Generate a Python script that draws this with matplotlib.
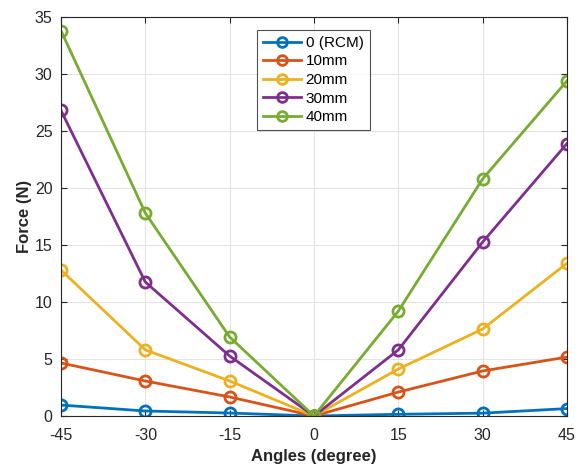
import matplotlib
matplotlib.use("Agg")
import matplotlib.pyplot as plt

angles = [-45, -30, -15, 0, 15, 30, 45]
labels = ["0 (RCM)", "10mm", "20mm", "30mm", "40mm"]
f_rcm = [0.96, 0.44, 0.26, 0.0, 0.15, 0.25, 0.65]
f_10 = [4.65, 3.07, 1.67, 0.0, 2.1, 3.95, 5.17]
f_20 = [12.8, 5.8, 3.07, 0.0, 4.12, 7.63, 13.4]
f_30 = [26.8, 11.75, 5.26, 0.0, 5.8, 15.26, 23.9]
f_40 = [33.8, 17.8, 6.93, 0.0, 9.2, 20.8, 29.4]
series = [f_rcm, f_10, f_20, f_30, f_40]
colors = ["#0072BD", "#D95319", "#EDB120", "#7E2F8E", "#77AC30"]

plt.rcParams['font.family'] = ['Liberation Sans', 'DejaVu Sans']
fig = plt.figure(figsize=(5.78, 4.66), dpi=100)
ax = fig.add_axes([61/578, 50/466, 506/578, 399/466])

for ys, lab, c in zip(series, labels, colors):
    ax.plot(angles, ys, color=c, lw=2.0, marker='o', ms=8, mfc='none',
            mew=2.0, label=lab)

ax.set_xlim(-45, 45)
ax.set_ylim(0, 35)
ax.set_xticks(angles)
ax.set_xticklabels([str(a) for a in angles])
ax.set_yticks(range(0, 36, 5))
ax.grid(True, color='#e3e3e3', lw=0.8)
ax.set_axisbelow(True)
for s in ax.spines.values():
    s.set_color('#262626')
    s.set_linewidth(0.8)
ax.tick_params(direction='in', length=4, labelsize=11.5, colors='#262626',
               top=True, right=True)
ax.tick_params(axis='x', pad=9)
ax.tick_params(axis='y', pad=6)
ax.set_xlabel('Angles (degree)', fontsize=12, fontweight='bold', color='#262626', labelpad=4)
ax.set_ylabel('Force (N)', fontsize=12, fontweight='bold', color='#262626', labelpad=2)

leg = ax.legend(loc='upper left', bbox_to_anchor=(0.387, 0.968), fontsize=11,
                frameon=True, fancybox=False, edgecolor='#262626',
                handlelength=2.5, borderpad=0.4, labelspacing=0.3,
                handletextpad=0.3, borderaxespad=0)
leg.get_frame().set_linewidth(0.8)
for h in leg.legend_handles:
    h.set_markersize(7)

fig.savefig('out.png', dpi=100)
